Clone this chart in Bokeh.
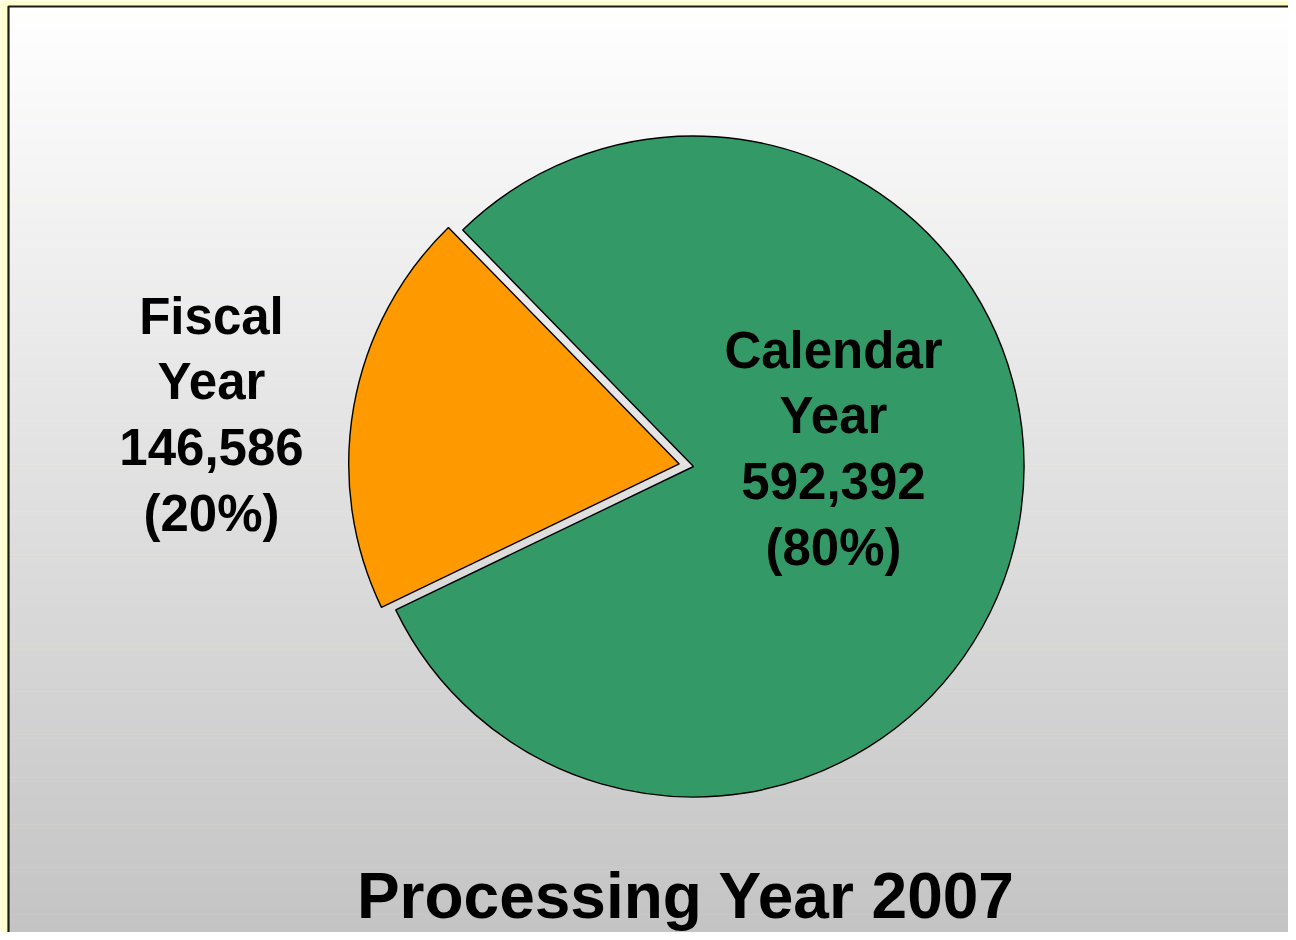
import numpy as np
from bokeh.plotting import figure
from bokeh.models import Range1d
from bokeh.embed import file_html
from bokeh.resources import INLINE
from bokeh.core.properties import value

# ---- data ----
categories = ["Fiscal Year", "Calendar Year"]
label_words = [["Fiscal", "Year"], ["Calendar", "Year"]]
counts = [146586, 592392]
colors = ["#FF9900", "#339966"]
title_text = "Processing Year 2007"

# ---- layout (pixel coordinates from the figure's top-left; y negated) ----
W, H = 1288, 932
p = figure(width=W, height=H, output_backend="svg", toolbar_location=None,
           x_range=Range1d(0, W), y_range=Range1d(-H, 0),
           min_border=0, background_fill_color="#FFFFCC",
           border_fill_color="#FFFFCC")
p.xaxis.visible = False
p.yaxis.visible = False
p.grid.visible = False
p.outline_line_color = None

# gradient panel
top0, bot0 = 6, 945
nb = 240
edges = np.linspace(top0, bot0, nb + 1)
tops, bots, cols = [], [], []
for i in range(nb):
    t = (edges[i] + edges[i + 1]) / 2
    f = (t - top0) / (bot0 - top0)
    g = int(round(255 - f * (255 - 195)))
    tops.append(-edges[i])
    bots.append(-edges[i + 1] - 0.6)
    cols.append("#%02x%02x%02x" % (g, g, g))
p.quad(left=8, right=1300, top=tops, bottom=bots, fill_color=cols, line_color=None)
p.line(x=[8, 8, 1300], y=[-945, -6, -6], line_color="#1a1a1a", line_width=2.2)

# pie
cx, cy, r = 693, -466, 330.5
total = sum(counts)
start0 = 134.3
explode = 14.5
a = start0
for i, c in enumerate(counts):
    span = 360.0 * c / total
    s, e = a, a + span
    mid = np.deg2rad((s + e) / 2)
    if i == 0:
        ox, oy = explode * np.cos(mid), explode * np.sin(mid)
    else:
        ox, oy = 0.0, 0.0
    p.wedge(x=cx + ox, y=cy + oy, radius=r, start_angle=np.deg2rad(s),
            end_angle=np.deg2rad(e), fill_color=colors[i],
            line_color="black", line_width=1.4)
    a = e

# labels
label_x = [211, 833]
label_base = [315.5, 349.5]
spacing = 65.7
xs, ys, ts = [], [], []
for i, c in enumerate(counts):
    lines = label_words[i] + [f"{c:,}", f"({round(100 * c / total)}%)"]
    for j, ln in enumerate(lines):
        xs.append(label_x[i])
        ys.append(-(label_base[i] + j * spacing))
        ts.append(ln)
p.text(x=xs, y=ys, text=ts, text_font=value("Liberation Sans"),
       text_font_style="bold", text_font_size="51px", text_align="center",
       text_baseline="alphabetic", text_color="black")

p.text(x=[685.5], y=[-895], text=[title_text], text_font=value("Liberation Sans"),
       text_font_style="bold", text_font_size="64px", text_align="center",
       text_baseline="alphabetic", text_color="black")

open("out.html", "w").write(file_html(p, INLINE))
